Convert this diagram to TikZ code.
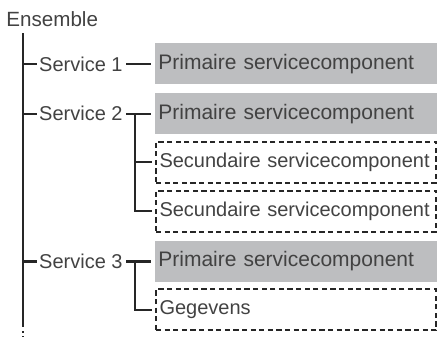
\documentclass[tikz,border=0pt]{standalone}
\usepackage{fontspec}
\setmainfont{Liberation Sans}
\usepackage{xcolor}
\definecolor{boxgray}{RGB}{189,190,192}
\definecolor{ink}{RGB}{66,66,66}
\usepackage{tikz}
\usetikzlibrary{positioning, calc}

\begin{document}
\begin{tikzpicture}[
    x=0.5pt, y=-0.5pt,
    node distance=4pt,
    prim/.style={
        rectangle,
        fill=boxgray,
        minimum height=20.5pt,
        text width=138pt,
        inner xsep=1.5pt,
        align=left,
        text=ink,
        font=\fontsize{10.5}{12}\selectfont
    },
    sec/.style={
        rectangle,
        draw=black!85,
        line width=1pt,
        dash pattern=on 2.6pt off 1.7pt,
        minimum height=20.5pt,
        text width=136.5pt,
        inner xsep=1.75pt,
        align=left,
        text=ink,
        font=\fontsize{10}{12}\selectfont
    },
    svc/.style={inner sep=0pt, text=ink, font=\fontsize{10}{12}\selectfont},
    conn/.style={line width=1.15pt, black!85}
]
\useasboundingbox (0,0) rectangle (437,337);

\node[svc, anchor=west, font=\fontsize{10.3}{12}\selectfont] (ens) at (6,19) {Ensemble};

% components
\node[prim, anchor=north west] (p1) at (155,43) {Primaire servicecomponent};
\node[prim, below=4pt of p1.south west, anchor=north west] (p2) {Primaire servicecomponent};
\node[sec, below=3pt of p2.south west, anchor=north west] (q1) {Secundaire servicecomponent};
\node[sec, below=3pt of q1.south west, anchor=north west] (q2) {Secundaire servicecomponent};
\node[prim, below=4pt of q2.south west, anchor=north west] (p3) {Primaire servicecomponent};
\node[sec, below=3pt of p3.south west, anchor=north west] (g) {Gegevens};

% services
\node[svc, left=16pt of p1] (s1) {Service 1};
\node[svc, left=16pt of p2] (s2) {Service 2};
\node[svc, left=16pt of p3] (s3) {Service 3};

% trunk
\coordinate (trunk) at (23,33);
\coordinate (foot) at (23,327);
\coordinate (tail) at (23,337);
\draw[conn] (trunk) -- (foot);
\draw[conn, dash pattern=on 1pt off 1.5pt] ([yshift=-2pt]foot) -- (tail);

\foreach \s in {s1,s2,s3}
    \draw[conn, shorten >=1pt] (trunk |- \s.west) -- (\s.west);

\foreach \s/\p in {s1/p1,s2/p2,s3/p3}
    \draw[conn, shorten <=1.5pt, shorten >=2pt] (\s) -- (\p);

% branches
\coordinate (j2) at ([xshift=6pt]s2.east);
\coordinate (j3) at ([xshift=6pt]s3.east);
\draw[conn, shorten >=1.5pt] (j2) |- (q1);
\draw[conn, shorten >=1.5pt] (j2) |- (q2);
\draw[conn, shorten >=1.5pt] (j3) |- (g);

\end{tikzpicture}
\end{document}
